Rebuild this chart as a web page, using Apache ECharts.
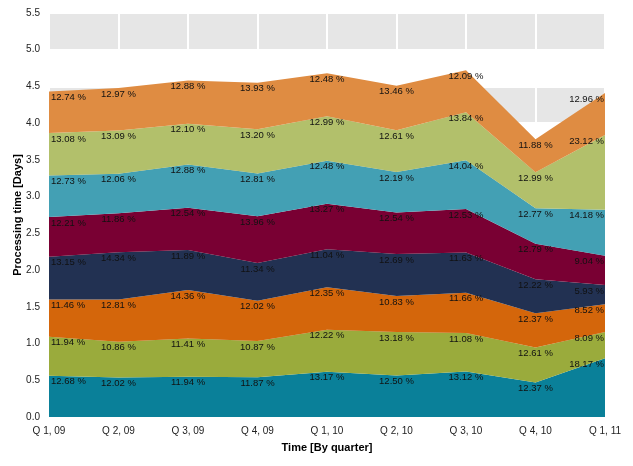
<!DOCTYPE html>
<html>
<head>
<meta charset="utf-8">
<script src="https://cdn.jsdelivr.net/npm/echarts@6/dist/echarts.min.js"></script>
<style>html,body{margin:0;padding:0;background:#fff;}#c{width:633px;height:466px;}</style>
</head>
<body>
<div id="c"></div>
<script>
const categories = ['Q 1, 09','Q 2, 09','Q 3, 09','Q 4, 09','Q 1, 10','Q 2, 10','Q 3, 10','Q 4, 10','Q 1, 11'];
const yTicks = ['0.0','0.5','1.0','1.5','2.0','2.5','3.0','3.5','4.0','4.5','5.0','5.5'];

// values (days) per series, bottom to top
const s1Values = [0.562,0.539,0.547,0.540,0.616,0.564,0.619,0.468,0.801];
const s2Values = [0.529,0.487,0.523,0.495,0.572,0.594,0.523,0.477,0.357];
const s3Values = [0.508,0.574,0.658,0.547,0.578,0.488,0.550,0.468,0.376];
const s4Values = [0.583,0.642,0.545,0.516,0.517,0.572,0.549,0.462,0.262];
const s5Values = [0.541,0.531,0.574,0.635,0.621,0.566,0.591,0.483,0.399];
const s6Values = [0.564,0.540,0.590,0.583,0.584,0.550,0.663,0.483,0.625];
const s7Values = [0.579,0.586,0.554,0.601,0.608,0.569,0.653,0.491,1.020];
const s8Values = [0.564,0.581,0.590,0.634,0.584,0.607,0.571,0.449,0.572];

// percentage labels per series
const s1Pct = ['12.68','12.02','11.94','11.87','13.17','12.50','13.12','12.37','18.17'];
const s2Pct = ['11.94','10.86','11.41','10.87','12.22','13.18','11.08','12.61','8.09'];
const s3Pct = ['11.46','12.81','14.36','12.02','12.35','10.83','11.66','12.37','8.52'];
const s4Pct = ['13.15','14.34','11.89','11.34','11.04','12.69','11.63','12.22','5.93'];
const s5Pct = ['12.21','11.86','12.54','13.96','13.27','12.54','12.53','12.79','9.04'];
const s6Pct = ['12.73','12.06','12.88','12.81','12.48','12.19','14.04','12.77','14.18'];
const s7Pct = ['13.08','13.09','12.10','13.20','12.99','12.61','13.84','12.99','23.12'];
const s8Pct = ['12.74','12.97','12.88','13.93','12.48','13.46','12.09','11.88','12.96'];

const seriesNames = ['Series 1','Series 2','Series 3','Series 4','Series 5','Series 6','Series 7','Series 8'];
const seriesColors = ['#0a8099','#9aab3c','#d4660b','#223152','#790033','#43a0b4','#b2c06b','#df8c42'];
const allValues = [s1Values,s2Values,s3Values,s4Values,s5Values,s6Values,s7Values,s8Values];
const allPct = [s1Pct,s2Pct,s3Pct,s4Pct,s5Pct,s6Pct,s7Pct,s8Pct];

const FONT = 'Liberation Sans';
const n = categories.length;

const series = allValues.map((vals, si) => ({
  name: seriesNames[si],
  type: 'line',
  stack: 'total',
  symbol: 'circle',
  symbolSize: 0,
  showSymbol: true,
  lineStyle: { width: 0 },
  areaStyle: { color: seriesColors[si], opacity: 1 },
  itemStyle: { color: seriesColors[si] },
  emphasis: { disabled: true },
  z: 2,
  data: vals.map((v, i) => ({
    value: v,
    label: {
      show: true,
      position: 'bottom',
      distance: 1,
      align: i === 0 ? 'left' : (i === n - 1 ? 'right' : 'center'),
      offset: i === 0 ? [2, 0] : (i === n - 1 ? [-1, 0] : [0, 0]),
      formatter: allPct[si][i] + ' %',
      color: '#111',
      fontSize: 9.5,
      fontFamily: FONT
    }
  }))
}));

const chart = echarts.init(document.getElementById('c'), null, { renderer: 'canvas' });
chart.setOption({
  animation: false,
  backgroundColor: '#ffffff',
  grid: { left: 49, right: 28, top: 13, bottom: 49, containLabel: false, outerBoundsMode: 'none' },
  xAxis: {
    type: 'category',
    data: categories,
    boundaryGap: false,
    name: 'Time [By quarter]',
    nameLocation: 'middle',
    nameGap: 25,
    nameMoveOverlap: false,
    nameTextStyle: { fontFamily: FONT, fontSize: 11, fontWeight: 'bold', color: '#000' },
    axisLine: { show: false },
    axisTick: { show: false },
    axisLabel: { fontFamily: FONT, fontSize: 10, color: '#222', margin: 9 },
    splitLine: { show: true, lineStyle: { color: '#ffffff', width: 2 } }
  },
  yAxis: {
    type: 'value',
    min: 0,
    max: 5.5,
    interval: 0.5,
    name: 'Processing time [Days]',
    nameLocation: 'middle',
    nameGap: 26,
    nameMoveOverlap: false,
    nameTextStyle: { fontFamily: FONT, fontSize: 11, fontWeight: 'bold', color: '#000' },
    axisLine: { show: false },
    axisTick: { show: false },
    axisLabel: {
      fontFamily: FONT, fontSize: 10, color: '#222', margin: 9,
      formatter: (v) => yTicks[Math.round(v / 0.5)]
    },
    splitLine: { show: true, lineStyle: { color: '#ffffff', width: 2 } },
    splitArea: { show: true, areaStyle: { color: ['#e6e6e6', '#ffffff'] } }
  },
  series: series
});
</script>
</body>
</html>
